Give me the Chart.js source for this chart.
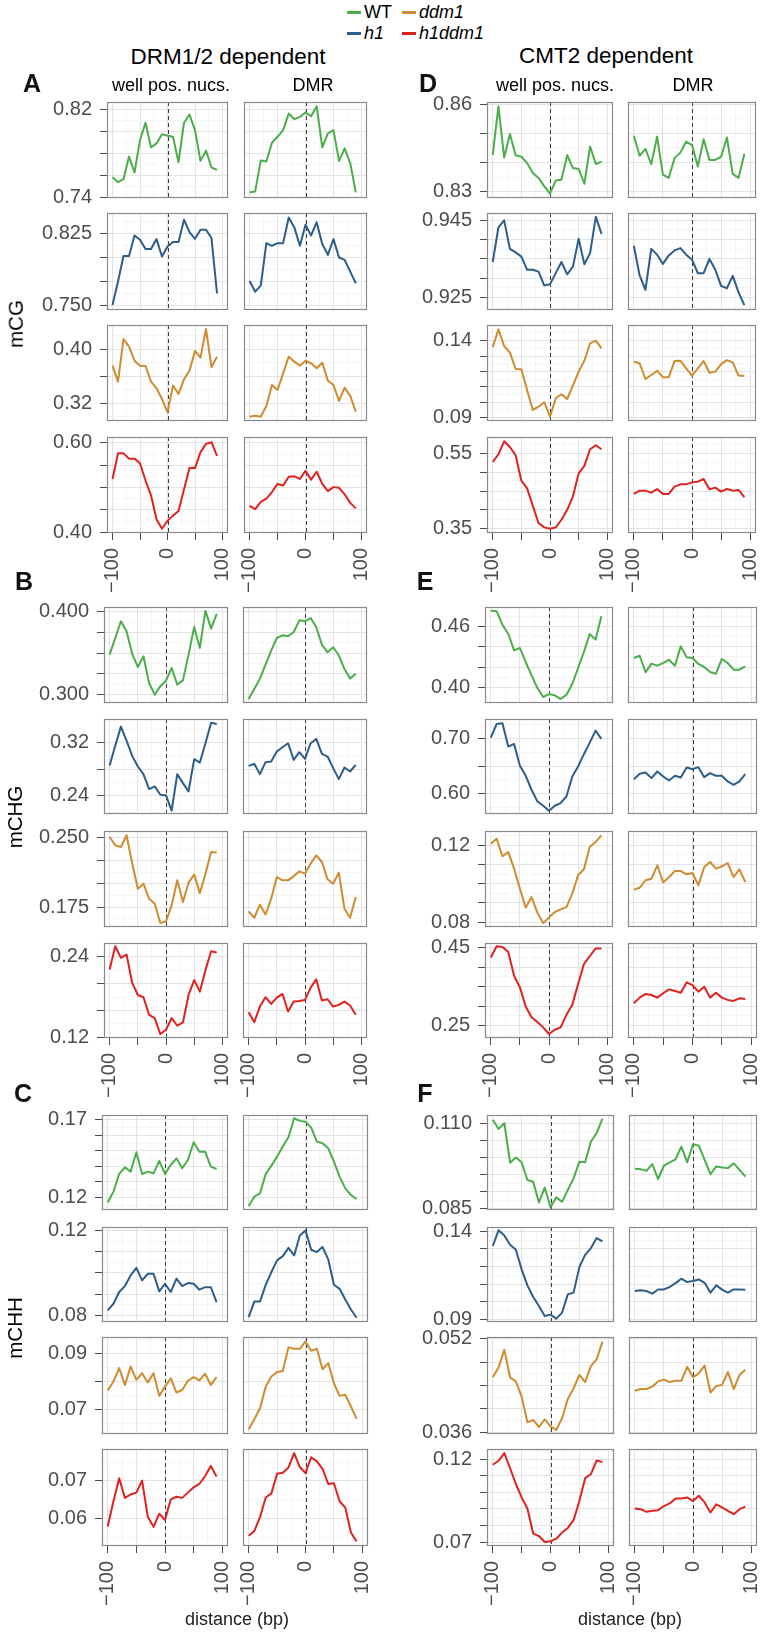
<!DOCTYPE html>
<html><head><meta charset="utf-8">
<script src="https://cdn.jsdelivr.net/npm/chart.js@4.4.1/dist/chart.umd.min.js"></script>
<style>
html,body{margin:0;padding:0;background:#fff;}
#page{position:relative;width:768px;height:1633px;overflow:hidden;font-family:"Liberation Sans",Arial,Helvetica,sans-serif;color:#000;}
canvas{position:absolute;}
.t{position:absolute;white-space:nowrap;line-height:1;transform:translate(-50%,-50%);}
.sw{position:absolute;height:3px;}
</style></head><body><div id="page"></div>
<script>
// ---------------- DATA ----------------
const distance = [-100,-90,-80,-70,-60,-50,-40,-30,-20,-10,0,10,20,30,40,50,60,70,80,90];
const genotypes = ['WT','h1','ddm1','h1ddm1'];
const regionNames = ['well pos. nucs.','DMR'];
const xMajorTicks = [-100,-50,0,50,100];
const xMinorTicks = [-75,-25,25,75];
const xLabelTicks = [-100,0,100];
const xLabelText = ['\u2212100','0','100'];

// A: mCG, DRM1/2 dependent
const mCG_DRM_nucs_WT = [0.7583,0.7538,0.7565,0.7770,0.7626,0.7920,0.8077,0.7854,0.7890,0.7974,0.7959,0.7950,0.7719,0.8077,0.8152,0.8011,0.7731,0.7824,0.7671,0.7650];
const mCG_DRM_dmr_WT = [0.7445,0.7454,0.7734,0.7725,0.7896,0.7950,0.8011,0.8161,0.8110,0.8131,0.8170,0.8137,0.8227,0.7854,0.7980,0.8011,0.7731,0.7845,0.7710,0.7445];
const mCG_DRM_nucs_h1 = [0.7500,0.7744,0.8011,0.8011,0.8225,0.8180,0.8083,0.8083,0.8187,0.8005,0.8110,0.8156,0.8156,0.8389,0.8260,0.8190,0.8285,0.8285,0.8198,0.7622];
const mCG_DRM_dmr_h1 = [0.7751,0.7639,0.7702,0.8145,0.8117,0.8145,0.8145,0.8413,0.8309,0.8117,0.8337,0.8225,0.8361,0.8135,0.8023,0.8187,0.7995,0.7971,0.7848,0.7727];
const mCG_DRM_nucs_ddm1 = [0.3758,0.3521,0.4153,0.4040,0.3832,0.3758,0.3753,0.3521,0.3422,0.3264,0.3067,0.3462,0.3338,0.3556,0.3684,0.3975,0.3877,0.4301,0.3733,0.3891];
const mCG_DRM_dmr_ddm1 = [0.3002,0.3017,0.3002,0.3160,0.3472,0.3398,0.3644,0.3891,0.3817,0.3758,0.3832,0.3793,0.3719,0.3802,0.3536,0.3472,0.3235,0.3432,0.3309,0.3077];
const mCG_DRM_nucs_h1ddm1 = [0.5194,0.5766,0.5766,0.5648,0.5648,0.5546,0.5158,0.4828,0.4293,0.4081,0.4256,0.4374,0.4476,0.4960,0.5436,0.5436,0.5795,0.5978,0.6015,0.5707];
const mCG_DRM_dmr_h1ddm1 = [0.4593,0.4520,0.4681,0.4755,0.4901,0.5084,0.5048,0.5245,0.5253,0.5194,0.5377,0.5179,0.5355,0.5084,0.4923,0.5011,0.4996,0.4850,0.4659,0.4535];

// D: mCG, CMT2 dependent
const mCG_CMT2_nucs_WT = [0.8426,0.8593,0.8417,0.8498,0.8425,0.8420,0.8398,0.8364,0.8347,0.8318,0.8293,0.8338,0.8341,0.8425,0.8381,0.8378,0.8327,0.8455,0.8395,0.8403];
const mCG_CMT2_dmr_WT = [0.8492,0.8423,0.8447,0.8394,0.8489,0.8358,0.8347,0.8415,0.8434,0.8472,0.8460,0.8386,0.8480,0.8409,0.8409,0.8420,0.8486,0.8361,0.8347,0.8430];
const mCG_CMT2_nucs_h1 = [0.9342,0.9432,0.9450,0.9376,0.9367,0.9356,0.9322,0.9322,0.9317,0.9281,0.9284,0.9313,0.9342,0.9310,0.9330,0.9402,0.9336,0.9365,0.9459,0.9415];
const mCG_CMT2_dmr_h1 = [0.9384,0.9307,0.9270,0.9376,0.9361,0.9337,0.9359,0.9372,0.9378,0.9361,0.9348,0.9313,0.9313,0.9350,0.9322,0.9280,0.9274,0.9306,0.9263,0.9230];
const mCG_CMT2_nucs_ddm1 = [0.1357,0.1474,0.1365,0.1322,0.1216,0.1214,0.1080,0.0950,0.0971,0.1000,0.0906,0.1026,0.1052,0.1021,0.1108,0.1199,0.1270,0.1383,0.1400,0.1350];
const mCG_CMT2_dmr_ddm1 = [0.1264,0.1253,0.1151,0.1177,0.1205,0.1162,0.1162,0.1268,0.1270,0.1220,0.1173,0.1220,0.1268,0.1192,0.1199,0.1248,0.1274,0.1259,0.1173,0.1171];
const mCG_CMT2_nucs_h1ddm1 = [0.5280,0.5482,0.5826,0.5676,0.5456,0.4778,0.4575,0.4108,0.3650,0.3535,0.3500,0.3535,0.3738,0.4002,0.4355,0.4971,0.5174,0.5615,0.5720,0.5615];
const mCG_CMT2_dmr_h1ddm1 = [0.4425,0.4513,0.4513,0.4460,0.4557,0.4425,0.4425,0.4619,0.4681,0.4681,0.4733,0.4751,0.4822,0.4548,0.4593,0.4487,0.4557,0.4513,0.4531,0.4337];

// B: mCHG, DRM1/2 dependent
const mCHG_DRM_nucs_WT = [0.3484,0.3685,0.3887,0.3766,0.3492,0.3335,0.3464,0.3141,0.3000,0.3101,0.3169,0.3323,0.3121,0.3173,0.3484,0.3819,0.3565,0.4016,0.3798,0.3976];
const mCHG_DRM_dmr_WT = [0.2948,0.3069,0.3194,0.3363,0.3532,0.3685,0.3718,0.3706,0.3758,0.3899,0.3887,0.3927,0.3815,0.3605,0.3512,0.3573,0.3476,0.3310,0.3194,0.3254];
const mCHG_DRM_nucs_h1 = [0.2855,0.3155,0.3440,0.3230,0.3000,0.2840,0.2725,0.2500,0.2540,0.2415,0.2405,0.2175,0.2725,0.2590,0.2465,0.2950,0.2900,0.3190,0.3500,0.3480];
const mCHG_DRM_dmr_h1 = [0.2850,0.2880,0.2725,0.2905,0.2915,0.3065,0.3130,0.3190,0.2940,0.3055,0.2955,0.3190,0.3255,0.3030,0.2990,0.2815,0.2650,0.2825,0.2765,0.2865];
const mCHG_DRM_nucs_ddm1 = [0.2506,0.2417,0.2398,0.2525,0.2222,0.1948,0.2002,0.1840,0.1786,0.1576,0.1597,0.1767,0.2038,0.1803,0.2013,0.2100,0.1900,0.2110,0.2344,0.2338];
const mCHG_DRM_dmr_ddm1 = [0.1702,0.1634,0.1775,0.1670,0.1840,0.2074,0.2038,0.2038,0.2084,0.2135,0.2110,0.2219,0.2308,0.2236,0.2049,0.2002,0.2121,0.1732,0.1634,0.1857];
const mCHG_DRM_nucs_h1ddm1 = [0.2212,0.2558,0.2385,0.2435,0.2015,0.1832,0.1798,0.1536,0.1486,0.1249,0.1314,0.1486,0.1373,0.1422,0.1832,0.2054,0.1881,0.2202,0.2484,0.2464];
const mCHG_DRM_dmr_h1ddm1 = [0.1575,0.1427,0.1659,0.1798,0.1699,0.1793,0.1847,0.1585,0.1733,0.1743,0.1758,0.1941,0.2064,0.1748,0.1768,0.1659,0.1684,0.1733,0.1674,0.1536];

// E: mCHG, CMT2 dependent
const mCHG_CMT2_nucs_WT = [0.4754,0.4748,0.4616,0.4525,0.4364,0.4387,0.4249,0.4118,0.3993,0.3905,0.3934,0.3921,0.3885,0.3928,0.4033,0.4190,0.4348,0.4525,0.4469,0.4698];
const mCHG_CMT2_dmr_WT = [0.4289,0.4311,0.4148,0.4233,0.4213,0.4239,0.4272,0.4213,0.4403,0.4295,0.4289,0.4230,0.4200,0.4151,0.4134,0.4279,0.4239,0.4174,0.4174,0.4207];
const mCHG_CMT2_nucs_h1 = [0.7012,0.7257,0.7269,0.6850,0.6898,0.6503,0.6323,0.6072,0.5862,0.5784,0.5695,0.5784,0.5832,0.5952,0.6311,0.6491,0.6713,0.6922,0.7138,0.6988];
const mCHG_CMT2_dmr_h1 = [0.6263,0.6359,0.6383,0.6281,0.6401,0.6311,0.6240,0.6323,0.6293,0.6473,0.6443,0.6479,0.6299,0.6371,0.6323,0.6323,0.6222,0.6162,0.6222,0.6353];
const mCHG_CMT2_nucs_ddm1 = [0.1209,0.1235,0.1143,0.1165,0.1079,0.0974,0.0875,0.0930,0.0849,0.0795,0.0823,0.0852,0.0866,0.0878,0.0948,0.1044,0.1075,0.1191,0.1217,0.1252];
const mCHG_CMT2_dmr_ddm1 = [0.0969,0.0979,0.1018,0.1026,0.1096,0.1006,0.1035,0.1066,0.1066,0.1049,0.1056,0.0991,0.1087,0.1113,0.1079,0.1091,0.1108,0.1035,0.1075,0.1009];
const mCHG_CMT2_nucs_h1ddm1 = [0.4246,0.4534,0.4517,0.4390,0.3780,0.3483,0.2992,0.2720,0.2593,0.2458,0.2288,0.2398,0.2458,0.2780,0.3034,0.3568,0.4076,0.4280,0.4475,0.4475];
const mCHG_CMT2_dmr_h1ddm1 = [0.3076,0.3220,0.3314,0.3288,0.3220,0.3331,0.3432,0.3390,0.3347,0.3610,0.3542,0.3373,0.3500,0.3220,0.3347,0.3220,0.3161,0.3136,0.3203,0.3186];

// C: mCHH, DRM1/2 dependent
const mCHH_DRM_nucs_WT = [0.1166,0.1237,0.1351,0.1394,0.1366,0.1491,0.1351,0.1366,0.1355,0.1435,0.1351,0.1409,0.1452,0.1388,0.1441,0.1556,0.1495,0.1495,0.1398,0.1383];
const mCHH_DRM_dmr_WT = [0.1144,0.1204,0.1226,0.1351,0.1405,0.1463,0.1528,0.1588,0.1711,0.1694,0.1689,0.1650,0.1560,0.1549,0.1517,0.1431,0.1334,0.1258,0.1215,0.1189];
const mCHH_DRM_nucs_h1 = [0.0824,0.0855,0.0910,0.0938,0.0988,0.1024,0.0965,0.0996,0.0996,0.0913,0.0949,0.0910,0.0973,0.0938,0.0952,0.0949,0.0921,0.0933,0.0933,0.0863];
const mCHH_DRM_dmr_h1 = [0.0792,0.0866,0.0866,0.0944,0.1004,0.1059,0.1079,0.1118,0.1082,0.1176,0.1200,0.1109,0.1098,0.1122,0.1064,0.0944,0.0925,0.0875,0.0828,0.0789];
const mCHH_DRM_nucs_ddm1 = [0.0769,0.0801,0.0849,0.0789,0.0855,0.0807,0.0831,0.0798,0.0831,0.0750,0.0783,0.0813,0.0762,0.0771,0.0804,0.0817,0.0805,0.0829,0.0789,0.0817];
const mCHH_DRM_dmr_ddm1 = [0.0631,0.0667,0.0706,0.0783,0.0819,0.0835,0.0839,0.0923,0.0918,0.0918,0.0944,0.0911,0.0918,0.0845,0.0867,0.0795,0.0750,0.0754,0.0712,0.0668];
const mCHH_DRM_nucs_h1ddm1 = [0.0579,0.0646,0.0707,0.0655,0.0664,0.0669,0.0701,0.0604,0.0578,0.0613,0.0596,0.0651,0.0658,0.0655,0.0669,0.0683,0.0692,0.0713,0.0740,0.0712];
const mCHH_DRM_dmr_h1ddm1 = [0.0554,0.0567,0.0604,0.0656,0.0667,0.0719,0.0722,0.0736,0.0774,0.0737,0.0721,0.0763,0.0752,0.0732,0.0692,0.0694,0.0646,0.0629,0.0563,0.0539];

// F: mCHH, CMT2 dependent
const mCHH_CMT2_nucs_WT = [0.1112,0.1085,0.1102,0.0986,0.1001,0.0987,0.0935,0.0930,0.0869,0.0913,0.0855,0.0884,0.0871,0.0906,0.0940,0.0989,0.0987,0.1048,0.1073,0.1115];
const mCHH_CMT2_dmr_WT = [0.0968,0.0967,0.0962,0.0982,0.0938,0.0977,0.0987,0.0996,0.1033,0.0987,0.1040,0.1036,0.0994,0.0952,0.0975,0.0972,0.0970,0.0984,0.0965,0.0945];
const mCHH_CMT2_nucs_h1 = [0.1317,0.1406,0.1377,0.1324,0.1296,0.1184,0.1093,0.1027,0.0976,0.0919,0.0927,0.0904,0.0938,0.1042,0.1052,0.1197,0.1267,0.1305,0.1362,0.1343];
const mCHH_CMT2_dmr_h1 = [0.1061,0.1065,0.1061,0.1046,0.1070,0.1070,0.1084,0.1106,0.1131,0.1112,0.1118,0.1127,0.1108,0.1052,0.1093,0.1069,0.1052,0.1070,0.1070,0.1069];
const mCHH_CMT2_nucs_ddm1 = [0.0454,0.0471,0.0501,0.0454,0.0447,0.0421,0.0377,0.0381,0.0369,0.0382,0.0370,0.0364,0.0384,0.0417,0.0435,0.0458,0.0446,0.0473,0.0485,0.0515];
const mCHH_CMT2_dmr_ddm1 = [0.0431,0.0434,0.0434,0.0438,0.0447,0.0450,0.0446,0.0448,0.0448,0.0472,0.0454,0.0461,0.0474,0.0428,0.0439,0.0441,0.0463,0.0434,0.0458,0.0467];
const mCHH_CMT2_nucs_h1ddm1 = [0.1166,0.1190,0.1236,0.1145,0.1050,0.0969,0.0902,0.0751,0.0736,0.0700,0.0704,0.0720,0.0757,0.0785,0.0832,0.0947,0.1085,0.1109,0.1192,0.1182];
const mCHH_CMT2_dmr_h1ddm1 = [0.0902,0.0898,0.0882,0.0888,0.0892,0.0917,0.0933,0.0963,0.0963,0.0969,0.0947,0.0979,0.0939,0.0878,0.0927,0.0909,0.0888,0.0868,0.0898,0.0913];

// y-axis breaks, labelled ends and limits, one entry per genotype row
const yTicks_A = [[0.74,0.76,0.78,0.80,0.82],[0.750,0.775,0.800,0.825],[0.32,0.36,0.40],[0.40,0.45,0.50,0.55,0.60]];
const yLabels_A = [['0.74','0.82'],['0.750','0.825'],['0.32','0.40'],['0.40','0.60']];
const yRange_A = [[0.7394,0.8266],[0.7448,0.8459],[0.2938,0.4360],[0.3985,0.6132]];
const yTicks_B = [[0.300,0.325,0.350,0.375,0.400],[0.24,0.28,0.32],[0.175,0.200,0.225,0.250],[0.12,0.16,0.20,0.24]];
const yLabels_B = [['0.300','0.400'],['0.24','0.32'],['0.175','0.250'],['0.12','0.24']];
const yRange_B = [[0.2899,0.4060],[0.2125,0.3555],[0.1534,0.2571],[0.1190,0.2607]];
const yTicks_C = [[0.12,0.13,0.14,0.15,0.16,0.17],[0.08,0.09,0.10,0.11,0.12],[0.07,0.08,0.09],[0.06,0.07]];
const yLabels_C = [['0.12','0.17'],['0.08','0.12'],['0.07','0.09'],['0.06','0.07']];
const yRange_C = [[0.1118,0.1732],[0.0769,0.1216],[0.0614,0.0960],[0.0527,0.0785]];
const yTicks_D = [[0.83,0.84,0.85,0.86],[0.925,0.930,0.935,0.940,0.945],[0.09,0.10,0.11,0.12,0.13,0.14],[0.35,0.40,0.45,0.50,0.55]];
const yLabels_D = [['0.83','0.86'],['0.925','0.945'],['0.09','0.14'],['0.35','0.55']];
const yRange_D = [[0.8278,0.8608],[0.92175,0.9469],[0.0878,0.1502],[0.3385,0.5941]];
const yTicks_E = [[0.40,0.42,0.44,0.46],[0.60,0.65,0.70],[0.08,0.09,0.10,0.11,0.12],[0.25,0.30,0.35,0.40,0.45]];
const yLabels_E = [['0.40','0.46'],['0.60','0.70'],['0.08','0.12'],['0.25','0.45']];
const yRange_E = [[0.3846,0.4790],[0.5635,0.7347],[0.0774,0.1275],[0.2186,0.4619]];
const yTicks_F = [[0.085,0.090,0.095,0.100,0.105,0.110],[0.09,0.10,0.11,0.12,0.13,0.14],[0.036,0.040,0.044,0.048,0.052],[0.07,0.08,0.09,0.10,0.11,0.12]];
const yLabels_F = [['0.085','0.110'],['0.09','0.14'],['0.036','0.052'],['0.07','0.12']];
const yRange_F = [[0.0847,0.1126],[0.0885,0.1425],[0.0357,0.0523],[0.0676,0.1261]];

// ---------------- STYLE / LAYOUT ----------------
const colors = {WT:'#4cae4a', h1:'#2d5d89', ddm1:'#cf8b30', h1ddm1:'#e0221f'};
const page = document.getElementById('page');
Chart.defaults.font.family = '"Liberation Sans", Arial, Helvetica, sans-serif';
const tickFontSize = 20;

const sections = [
  {letter:'A', lp:[32,83], cols:[[107,228],[244,367]], rows:[[102,198],[213,310],[325,421],[437,533]],
   series:[[mCG_DRM_nucs_WT,mCG_DRM_dmr_WT],[mCG_DRM_nucs_h1,mCG_DRM_dmr_h1],[mCG_DRM_nucs_ddm1,mCG_DRM_dmr_ddm1],[mCG_DRM_nucs_h1ddm1,mCG_DRM_dmr_h1ddm1]],
   ticks:yTicks_A, labels:yLabels_A, ranges:yRange_A},
  {letter:'B', lp:[24,581], cols:[[104,228],[243,367]], rows:[[607,703],[719,814],[831,927],[943,1038]],
   series:[[mCHG_DRM_nucs_WT,mCHG_DRM_dmr_WT],[mCHG_DRM_nucs_h1,mCHG_DRM_dmr_h1],[mCHG_DRM_nucs_ddm1,mCHG_DRM_dmr_ddm1],[mCHG_DRM_nucs_h1ddm1,mCHG_DRM_dmr_h1ddm1]],
   ticks:yTicks_B, labels:yLabels_B, ranges:yRange_B},
  {letter:'C', lp:[23,1093], cols:[[102,228],[243,368]], rows:[[1115,1210],[1227,1322],[1337,1434],[1449,1546]],
   series:[[mCHH_DRM_nucs_WT,mCHH_DRM_dmr_WT],[mCHH_DRM_nucs_h1,mCHH_DRM_dmr_h1],[mCHH_DRM_nucs_ddm1,mCHH_DRM_dmr_ddm1],[mCHH_DRM_nucs_h1ddm1,mCHH_DRM_dmr_h1ddm1]],
   ticks:yTicks_C, labels:yLabels_C, ranges:yRange_C},
  {letter:'D', lp:[428,83], cols:[[487,613],[628,756]], rows:[[102,198],[213,310],[325,421],[437,533]],
   series:[[mCG_CMT2_nucs_WT,mCG_CMT2_dmr_WT],[mCG_CMT2_nucs_h1,mCG_CMT2_dmr_h1],[mCG_CMT2_nucs_ddm1,mCG_CMT2_dmr_ddm1],[mCG_CMT2_nucs_h1ddm1,mCG_CMT2_dmr_h1ddm1]],
   ticks:yTicks_D, labels:yLabels_D, ranges:yRange_D},
  {letter:'E', lp:[425,581], cols:[[485,613],[628,757]], rows:[[607,703],[719,814],[831,927],[943,1038]],
   series:[[mCHG_CMT2_nucs_WT,mCHG_CMT2_dmr_WT],[mCHG_CMT2_nucs_h1,mCHG_CMT2_dmr_h1],[mCHG_CMT2_nucs_ddm1,mCHG_CMT2_dmr_ddm1],[mCHG_CMT2_nucs_h1ddm1,mCHG_CMT2_dmr_h1ddm1]],
   ticks:yTicks_E, labels:yLabels_E, ranges:yRange_E},
  {letter:'F', lp:[425,1093], cols:[[487,614],[629,757]], rows:[[1115,1210],[1227,1322],[1337,1434],[1449,1546]],
   series:[[mCHH_CMT2_nucs_WT,mCHH_CMT2_dmr_WT],[mCHH_CMT2_nucs_h1,mCHH_CMT2_dmr_h1],[mCHH_CMT2_nucs_ddm1,mCHH_CMT2_dmr_ddm1],[mCHH_CMT2_nucs_h1ddm1,mCHH_CMT2_dmr_h1ddm1]],
   ticks:yTicks_F, labels:yLabels_F, ranges:yRange_F}
];

const panelPlugin = {
  id:'panelDeco',
  beforeDatasetsDraw(chart){
    const {ctx, chartArea:a, scales} = chart;
    const px = Math.round(scales.x.getPixelForValue(0)) + 0.5;
    ctx.save();
    ctx.strokeStyle = '#3a3a3a'; ctx.lineWidth = 1; ctx.setLineDash([4,3]);
    ctx.beginPath(); ctx.moveTo(px, a.top); ctx.lineTo(px, a.bottom); ctx.stroke();
    ctx.restore();
  },
  afterDatasetsDraw(chart){
    const {ctx, chartArea:a} = chart;
    ctx.save();
    ctx.strokeStyle = '#8a8a8a'; ctx.lineWidth = 1.2;
    ctx.strokeRect(Math.round(a.left)+0.5, Math.round(a.top)+0.5, Math.round(a.right-a.left)-1, Math.round(a.bottom-a.top)-1);
    ctx.restore();
  }
};

function gridOpts(show){
  return {
    color: c => (c.tick && c.tick.minor) ? '#f2f2f2' : '#e3e3e3',
    lineWidth: c => (c.tick && c.tick.minor) ? 0.8 : 1,
    drawTicks: show, tickLength: 7, tickWidth: 1,
    tickColor: c => (c.tick && c.tick.minor) ? 'rgba(0,0,0,0)' : '#4a4a4a'
  };
}

function makePanel(o){
  const padL = o.showY ? 100 : 20, padR = 20, padT = 14, padB = o.showX ? 75 : 14;
  const W = o.r - o.l + padL + padR, H = o.b - o.t + padT + padB;
  const cv = document.createElement('canvas');
  cv.width = W; cv.height = H;
  cv.style.left = (o.l - padL) + 'px'; cv.style.top = (o.t - padT) + 'px';
  cv.style.width = W + 'px'; cv.style.height = H + 'px';
  page.appendChild(cv);
  const zero = s => { s.paddingLeft = 0; s.paddingRight = 0; s.paddingTop = 0; s.paddingBottom = 0; };
  const yMaj = o.yTicks, step = yMaj.length > 1 ? yMaj[1]-yMaj[0] : 0;
  new Chart(cv, {
    type:'line',
    data:{datasets:[{data: distance.map((x,i)=>({x:x, y:o.values[i]})), borderColor:o.color, borderWidth:2,
      pointRadius:0, fill:false, tension:0, borderJoinStyle:'round'}]},
    options:{
      responsive:false, animation:false, events:[],
      layout:{padding:{left:0, right:padR, top:padT, bottom:0}},
      plugins:{legend:{display:false}, tooltip:{enabled:false}, title:{display:false}},
      scales:{
        x:{type:'linear', min:-110, max:110, position:'bottom',
          afterBuildTicks: ax => {
            const t = xMajorTicks.map(v=>({value:v, minor:false})).concat(xMinorTicks.map(v=>({value:v, minor:true})));
            t.sort((a,b)=>a.value-b.value);
            t.forEach(k => { const j = xLabelTicks.indexOf(k.value); k.lab = j >= 0 ? xLabelText[j] : ''; });
            ax.ticks = t;
          },
          afterFit: s => { s.height = padB; zero(s); },
          border:{display:false},
          grid: gridOpts(o.showX),
          ticks:{display:o.showX, autoSkip:false, minRotation:90, maxRotation:90, padding:8, color:'#4d4d4d',
            font:{size:tickFontSize}, callback:(v,i,t)=> (t[i] && t[i].lab) || ''}
        },
        y:{type:'linear', min:o.yRange[0], max:o.yRange[1], position:'left',
          afterBuildTicks: ax => {
            const t = yMaj.map((v,i)=>({value:v, minor:false,
              lab: i===0 ? o.yLabels[0] : (i===yMaj.length-1 ? o.yLabels[1] : '')}));
            const mids = [];
            for (let i=0;i<yMaj.length-1;i++) mids.push((yMaj[i]+yMaj[i+1])/2);
            mids.push(yMaj[0]-step/2, yMaj[yMaj.length-1]+step/2);
            mids.forEach(v => { if (v >= o.yRange[0] && v <= o.yRange[1]) t.push({value:v, minor:true, lab:''}); });
            t.sort((a,b)=>a.value-b.value);
            ax.ticks = t;
          },
          afterFit: s => { s.width = padL; zero(s); },
          border:{display:false},
          grid: gridOpts(o.showY),
          ticks:{display:o.showY, autoSkip:false, padding:8, color:'#4d4d4d', font:{size:tickFontSize},
            callback:(v,i,t)=> (t[i] && t[i].lab) || ''}
        }
      }
    },
    plugins:[panelPlugin]
  });
}

sections.forEach(sec => {
  sec.rows.forEach((row, r) => {
    sec.cols.forEach((col, c) => {
      makePanel({l:col[0], r:col[1], t:row[0], b:row[1], values:sec.series[r][c], color:colors[genotypes[r]],
        yTicks:sec.ticks[r], yLabels:sec.labels[r], yRange:sec.ranges[r], showY:c===0, showX:r===3});
    });
  });
});

// ---------------- TEXT ----------------
function addText(txt, x, y, css){
  const d = document.createElement('div');
  d.className = 't'; d.textContent = txt;
  d.style.left = x + 'px'; d.style.top = y + 'px';
  Object.assign(d.style, css || {});
  page.appendChild(d);
  return d;
}
function addSwatch(x1, x2, y, color){
  const d = document.createElement('div');
  d.className = 'sw'; d.style.left = x1+'px'; d.style.width = (x2-x1)+'px'; d.style.top = (y-1.5)+'px';
  d.style.background = color; page.appendChild(d);
}
// legend
const legendPos = {WT:[347,12], h1:[347,33], ddm1:[402,12], h1ddm1:[402,33]};
genotypes.forEach(g => {
  const p = legendPos[g];
  addSwatch(p[0], p[0]+14, p[1], colors[g]);
  addText(g, p[0]+17, p[1], {fontSize:'18px', transform:'translate(0,-50%)', fontStyle: g==='WT' ? 'normal':'italic'});
});
// titles
addText('DRM1/2 dependent', 228, 57, {fontSize:'22.5px'});
addText('CMT2 dependent', 606, 56, {fontSize:'22.5px'});
addText(regionNames[0], 171, 85, {fontSize:'18px'});
addText(regionNames[1], 313, 85, {fontSize:'18px'});
addText(regionNames[0], 555, 85, {fontSize:'18px'});
addText(regionNames[1], 693, 85, {fontSize:'18px'});
// panel letters
sections.forEach(sec => addText(sec.letter, sec.lp[0], sec.lp[1], {fontSize:'25px', fontWeight:'bold', color:'#111'}));
// row labels
addText('mCG', 16, 324, {fontSize:'20.5px', transform:'translate(-50%,-50%) rotate(-90deg)'});
addText('mCHG', 15, 817, {fontSize:'20.5px', transform:'translate(-50%,-50%) rotate(-90deg)'});
addText('mCHH', 15, 1328, {fontSize:'20.5px', transform:'translate(-50%,-50%) rotate(-90deg)'});
// x titles
addText('distance (bp)', 237, 1619, {fontSize:'18px', color:'#222'});
addText('distance (bp)', 630, 1619, {fontSize:'18px', color:'#222'});
</script></body></html>
